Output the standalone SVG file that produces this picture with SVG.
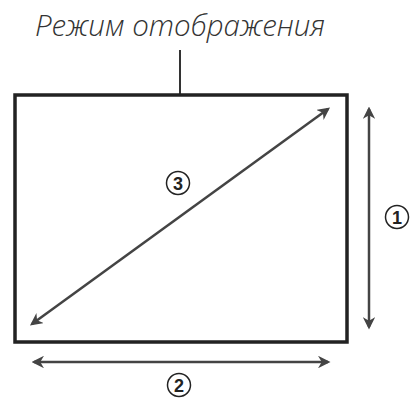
<svg xmlns="http://www.w3.org/2000/svg" width="415" height="403" viewBox="0 0 415 403">
<style>
.title{font-family:"Open Sans","Noto Sans",sans-serif;font-style:italic;font-weight:300;font-size:29.5px;fill:#333}
.num{font-family:"Liberation Sans",Arial,sans-serif;font-weight:bold;font-size:18px;fill:#222;text-anchor:middle}
.circ{fill:#fff;stroke:#222;stroke-width:1.5}
.dim{stroke:#444;stroke-width:2.5;fill:none;marker-start:url(#a);marker-end:url(#a)}
</style>
<defs>
<marker id="a" viewBox="0 0 10 10" refX="8" refY="5" markerWidth="5" markerHeight="5" orient="auto-start-reverse" markerUnits="strokeWidth">
<path d="M0,0 L10,5 L0,10 L3,5 Z" fill="#444"/>
</marker>
</defs>
<rect width="415" height="403" fill="#fff"/>
<g id="title">
<text class="title" x="180" y="36" text-anchor="middle">Режим отображения</text>
<line x1="180" y1="50" x2="180" y2="94" stroke="#333" stroke-width="2"/>
</g>
<g id="screen">
<rect x="15" y="95" width="332" height="247" fill="#fff" stroke="#222" stroke-width="3.5"/>
</g>
<g id="connectors">
<line class="dim" x1="369" y1="109" x2="369" y2="327"/>
<line class="dim" x1="34" y1="362" x2="328" y2="362"/>
<line class="dim" x1="32" y1="324" x2="328" y2="109"/>
</g>
<g id="label1">
<circle class="circ" cx="397" cy="217" r="11.5"/>
<text class="num" x="397" y="223.5">1</text>
</g>
<g id="label2">
<circle class="circ" cx="179" cy="385" r="11.5"/>
<text class="num" x="179" y="391.5">2</text>
</g>
<g id="label3">
<circle class="circ" cx="178" cy="183" r="11.5"/>
<text class="num" x="178" y="189.5">3</text>
</g>
</svg>
